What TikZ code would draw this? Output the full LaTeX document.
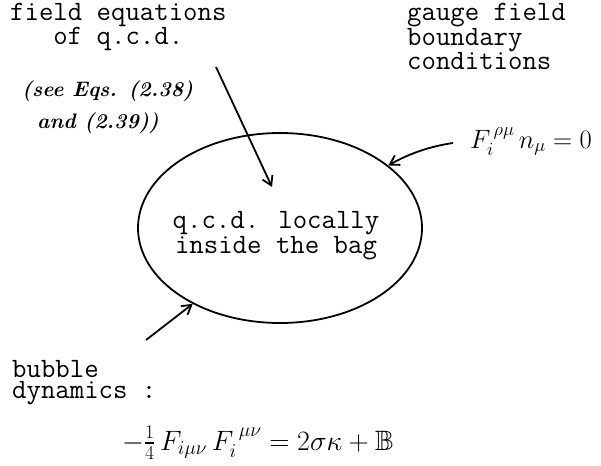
\RequirePackage{fix-cm}
\documentclass[tikz,border=0pt]{standalone}
\usepackage{amsmath, amssymb}
\usepackage{tikz}
\usetikzlibrary{shapes.geometric, arrows.meta}

\tikzset{
  typed/.style={font=\fontsize{28}{#1}\selectfont\ttfamily, inner sep=0pt},
  typed/.default=22,
  hand/.style={font=\fontsize{21}{24}\selectfont\bfseries\itshape, inner sep=0pt},
  formula/.style={font=\fontsize{#1}{30}\selectfont, inner sep=0pt},
  formula/.default=26,
  pen/.style={line width=1.8pt, -{Straight Barb[length=9pt,width=11pt,line width=1.8pt]}},
}

\begin{document}
\begin{tikzpicture}[x=1pt,y=1pt,yscale=-1,xscale=1]
  \useasboundingbox (0,0) rectangle (601,465);

  % Bag
  \node [ellipse, draw, line width=1.8pt, minimum width=284, minimum height=190, inner sep=0pt] (bag) at (280,228) {};
  % Text Node
  \node [typed=23, align=center, anchor=base] (inside) at (276,253) {q.c.d. locally\\inside the bag};

  % Text Node
  \node [typed=19, align=left, anchor=base west] (fieldeq) at (10,45) {field equations\\\phantom{fie}of q.c.d.};
  % Text Node
  \node [typed=23, align=left, anchor=base west] (gauge) at (407,70) {gauge field\\boundary\\conditions};
  % Text Node
  \node [hand, anchor=base west] (seeeqs) at (22,97) {(see Eqs. (2.38)};
  \node [hand, anchor=base west] (andeqs) at (37,129) {and (2.39))};
  % Text Node
  \node [formula=26.5, anchor=base west] (boundcond) at (470,148) {$F_i^{\,\rho\mu}\,n_\mu = 0$};
  % Text Node
  \node [typed=21, align=left, anchor=base west] (bubble) at (12,398) {bubble\\dynamics :};
  % Text Node
  \node [formula=28, anchor=base west] (bubbleeq) at (122,450) {$-\frac{1}{4}\,F_{i\mu\nu}\,F_i^{\;\mu\nu} = 2\sigma\kappa + \mathbb{B}$};

  %Arrows
  \coordinate (eqtail) at (216,67);
  \coordinate (eqtip) at (272,187);
  \coordinate (bctail) at (453,143);
  \coordinate (bubtail) at (146,340);
  \draw [pen] (eqtail) -- (eqtip);
  \draw [pen] (bctail) .. controls (432,146) and (410,153) .. (bag.30);
  \draw [pen] (bubtail) -- (bag.221);
\end{tikzpicture}
\end{document}
